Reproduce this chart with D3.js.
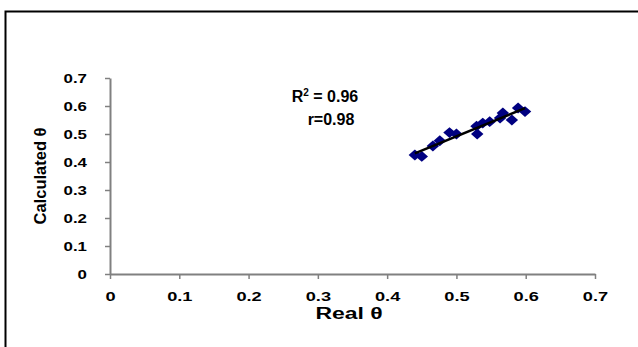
<!DOCTYPE html>
<html>
<head>
<meta charset="utf-8">
<script src="https://cdn.jsdelivr.net/npm/d3@7"></script>
<style>
  body { margin: 0; background: #fff; }
  svg { display: block; font-family: Arial, "Liberation Sans", sans-serif; }
</style>
</head>
<body>
<svg id="chart" width="638" height="347"></svg>
<script>
// real theta vs calculated theta
const realTheta = [0.44, 0.45, 0.466, 0.476, 0.49, 0.50, 0.529, 0.53, 0.538, 0.548, 0.563, 0.567, 0.58, 0.589, 0.599]
const calcTheta = [0.425, 0.42, 0.457, 0.476, 0.505, 0.50, 0.528, 0.50, 0.539, 0.544, 0.557, 0.575, 0.55, 0.593, 0.58]
const tickValues = [0, 0.1, 0.2, 0.3, 0.4, 0.5, 0.6, 0.7]
const statLines = ['R² = 0.96', 'r=0.98']

const svg = d3.select('#chart')

// outer frame (runs off the picture on right / bottom)
svg.append('rect')
  .attr('x', 5.5).attr('y', 11.5)
  .attr('width', 700).attr('height', 400)
  .attr('fill', 'none').attr('stroke', '#000').attr('stroke-width', 2)

var x = d3.scaleLinear().domain([0, 0.7]).range([110, 595])
var y = d3.scaleLinear().domain([0, 0.7]).range([274, 78])

const fmt = d => d === 0 ? '0' : d3.format('.1f')(d)

const xAxis = svg.append('g')
  .attr('transform', 'translate(0,' + y(0) + ')')
  .call(d3.axisBottom(x).tickValues(tickValues).tickSize(5).tickSizeOuter(0).tickFormat(fmt))
const yAxis = svg.append('g')
  .attr('transform', 'translate(' + x(0) + ',0)')
  .call(d3.axisLeft(y).tickValues(tickValues).tickSize(5).tickSizeOuter(0).tickFormat(fmt))

for (const ax of [xAxis, yAxis]) {
  ax.select('.domain').attr('stroke', '#808080').attr('stroke-width', 2)
  ax.selectAll('.tick line').attr('stroke', '#808080').attr('stroke-width', 1.5)
  ax.selectAll('.tick text')
    .attr('fill', '#000').style('font-weight', 'bold')
    .style('font-family', 'Arial, "Liberation Sans", sans-serif')
}
// horizontally stretched tick labels, like the original
xAxis.selectAll('.tick text')
  .style('font-size', '13px')
  .attr('y', 0).attr('dy', 0)
  .attr('transform', 'translate(0,27) scale(1.4,1)')
yAxis.selectAll('.tick text')
  .style('font-size', '12.5px')
  .attr('x', 0)
  .attr('transform', 'translate(-23,0) scale(1.35,1)')

// axis titles
svg.append('text')
  .attr('transform', 'translate(349,319) scale(1.35,1)')
  .attr('text-anchor', 'middle')
  .style('font-size', '17px').style('font-weight', 'bold')
  .text('Real θ')

svg.append('text')
  .attr('transform', 'translate(46,176) rotate(-90)')
  .attr('text-anchor', 'middle')
  .style('font-size', '16.5px').style('font-weight', 'bold')
  .text('Calculated θ')

// points
const pts = realTheta.map((d, i) => ({ x: d, y: calcTheta[i] }))
svg.append('g').selectAll('path')
  .data(pts)
  .enter().append('path')
  .attr('d', d3.symbol().type(d3.symbolDiamond2).size(75))
  .attr('transform', d => 'translate(' + x(d.x) + ',' + y(d.y) + ') scale(1.15,1)')
  .attr('fill', '#000080')

// linear trend line from least squares
var mx = d3.mean(realTheta), my = d3.mean(calcTheta)
var sxy = d3.sum(realTheta, (d, i) => (d - mx) * (calcTheta[i] - my))
var sxx = d3.sum(realTheta, d => (d - mx) * (d - mx))
var slope = sxy / sxx, icpt = my - slope * mx
var xs = d3.extent(realTheta)
svg.append('line')
  .attr('x1', x(xs[0])).attr('y1', y(icpt + slope * xs[0]))
  .attr('x2', x(xs[1])).attr('y2', y(icpt + slope * xs[1]))
  .attr('stroke', '#000').attr('stroke-width', 2.5)

// stats label
const stat = svg.append('text')
  .attr('text-anchor', 'middle')
  .style('font-size', '16px').style('font-weight', 'bold')
stat.append('tspan').attr('x', 325).attr('y', 102).text('R')
stat.append('tspan').attr('dy', -6).style('font-size', '10px').text('2')
stat.append('tspan').attr('dy', 6).text(' = 0.96')
svg.append('text')
  .attr('x', 331).attr('y', 125)
  .attr('text-anchor', 'middle')
  .style('font-size', '16px').style('font-weight', 'bold')
  .text(statLines[1])
</script>
</body>
</html>
